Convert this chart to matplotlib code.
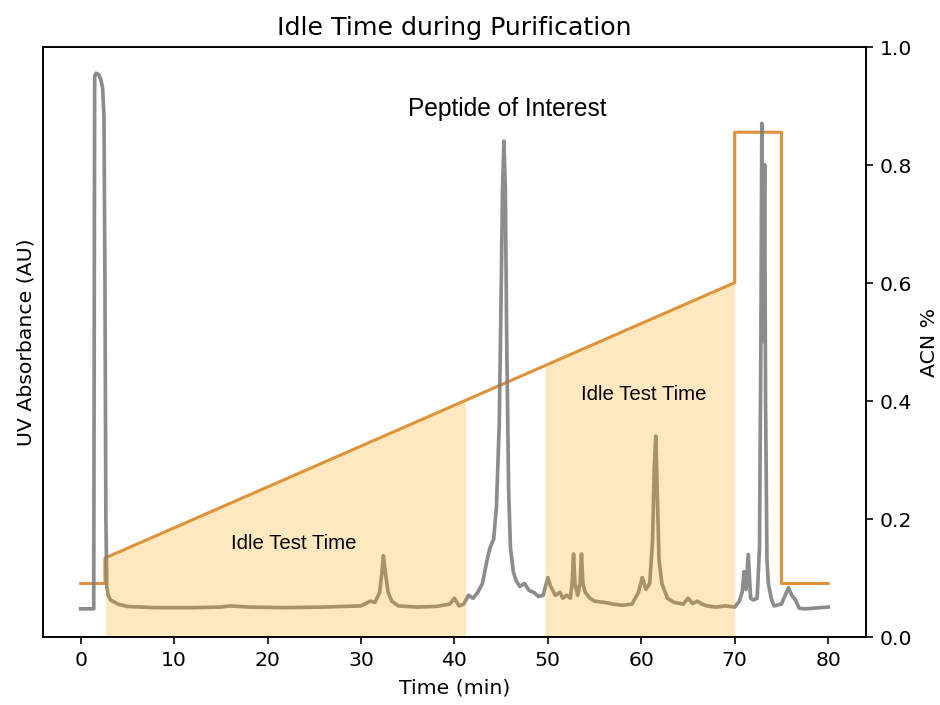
import numpy as np
import matplotlib
matplotlib.use("Agg")
import matplotlib.pyplot as plt

# UV trace (in units of the 0-1 axis)
uv_time = [0, 1.4, 1.5, 1.65, 1.9, 2.15, 2.35, 2.5, 2.6, 2.7, 2.8, 2.95, 3.2, 4, 5, 8, 12, 15,
           16, 18, 22, 26, 28, 30, 31, 31.5, 32.0, 32.25, 32.4, 32.6, 32.9, 33.3, 34, 36, 38,
           39.5, 40, 40.5, 41, 41.5, 42, 42.5, 43, 43.5, 43.8, 44.2, 44.5, 44.8, 45.0, 45.15,
           45.3, 45.45, 45.6, 45.8, 46.0, 46.3, 46.6, 47, 47.5, 48, 48.5, 49, 49.5, 50, 50.3,
           50.8, 51.3, 51.6, 52, 52.4, 52.6, 52.75, 52.9, 53.2, 53.45, 53.6, 53.75, 54.0,
           54.5, 55, 56, 57, 58, 59, 59.7, 60.1, 60.5, 60.9, 61.2, 61.4, 61.55, 61.7, 61.9,
           62.2, 62.8, 63.5, 64.5, 65, 65.5, 66, 66.5, 67, 68, 69, 70, 70.5, 70.8, 71.0,
           71.2, 71.45, 71.7, 72.0, 72.4, 72.65, 72.8, 72.9, 73.0, 73.1, 73.2, 73.3, 73.45,
           73.6, 73.9, 74.2, 75, 75.4, 75.75, 76.1, 76.5, 76.9, 77.5, 80]
uv_abs = [0.047, 0.047, 0.95, 0.955, 0.953, 0.945, 0.93, 0.88, 0.6, 0.2, 0.085, 0.07, 0.062,
          0.055, 0.051, 0.049, 0.049, 0.05, 0.052, 0.05, 0.049, 0.05, 0.051, 0.052, 0.06,
          0.058, 0.075, 0.11, 0.137, 0.11, 0.075, 0.06, 0.052, 0.05, 0.051, 0.055, 0.065,
          0.052, 0.055, 0.07, 0.065, 0.075, 0.09, 0.13, 0.15, 0.165, 0.22, 0.36, 0.58, 0.76,
          0.84, 0.76, 0.5, 0.25, 0.15, 0.11, 0.095, 0.085, 0.09, 0.078, 0.075, 0.068, 0.07,
          0.1, 0.085, 0.07, 0.075, 0.065, 0.07, 0.065, 0.09, 0.14, 0.09, 0.07, 0.09, 0.14,
          0.09, 0.075, 0.065, 0.06, 0.058, 0.055, 0.053, 0.055, 0.075, 0.1, 0.08, 0.09,
          0.16, 0.29, 0.34, 0.25, 0.13, 0.09, 0.065, 0.058, 0.055, 0.065, 0.056, 0.06, 0.055,
          0.052, 0.05, 0.052, 0.05, 0.06, 0.075, 0.11, 0.08, 0.139, 0.065, 0.062, 0.065,
          0.15, 0.5, 0.87, 0.6, 0.5, 0.8, 0.4, 0.13, 0.09, 0.065, 0.052, 0.055, 0.07, 0.083,
          0.07, 0.062, 0.048, 0.047, 0.05]

# ACN gradient
acn_time = [0, 2.6, 2.6, 70, 70, 75, 75, 80]
acn_pct = [0.09, 0.09, 0.133, 0.6, 0.855, 0.855, 0.09, 0.09]

# idle windows
idle_windows = [(2.65, 41.2), (49.7, 70.0)]

fig, ax1 = plt.subplots(figsize=(6.4, 4.8), dpi=147)
fig.subplots_adjust(left=0.046, right=0.92, top=0.933, bottom=0.097)

ax1.plot(acn_time, acn_pct, color="#df913d", lw=1.5)
ax1.plot(uv_time, uv_abs, color="gray", lw=1.8, alpha=0.9)
ax1.set_ylim(0, 1)
ax1.set_yticks([])
ax1.set_xlabel("Time (min)")
ax1.set_ylabel("UV Absorbance (AU)")
ax1.set_xticks(range(0, 81, 10))

ax2 = ax1.twinx()
ramp_t = [2.6, 70]
ramp_v = [0.133, 0.6]
for start, end in idle_windows:
    xs = [start, end]
    ax2.fill_between(xs, 0, np.interp(xs, ramp_t, ramp_v), color="orange", alpha=0.25, lw=0)
ax2.set_ylim(0, 1)
ax2.set_ylabel("ACN %")

ax1.set_title("Idle Time during Purification", fontsize=12.4)
ax2.text(45.7, 0.895, "Peptide of Interest", ha="center", va="center",
         fontsize=12, family="Liberation Sans")
ax2.text(22.8, 0.158, "Idle Test Time", ha="center", va="center",
         fontsize=10, family="Liberation Sans")
ax2.text(60.3, 0.412, "Idle Test Time", ha="center", va="center",
         fontsize=10, family="Liberation Sans")

plt.savefig("out.png")
